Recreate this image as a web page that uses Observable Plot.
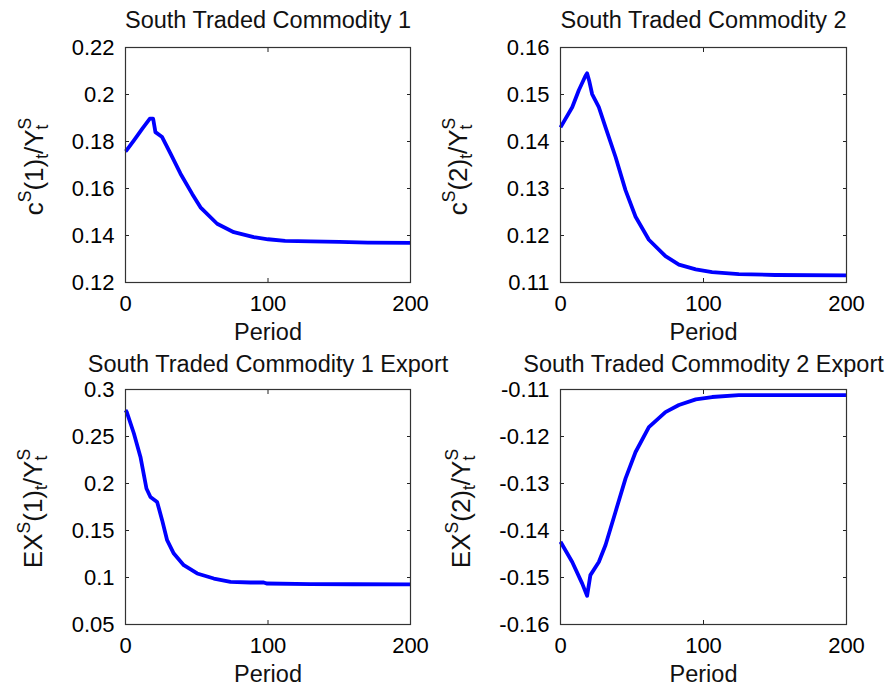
<!DOCTYPE html>
<html><head><meta charset="utf-8">
<script src="https://cdn.jsdelivr.net/npm/d3@7"></script>
<script src="https://cdn.jsdelivr.net/npm/@observablehq/plot@0.6"></script>
<style>
body{margin:0;background:#fff;}
#fig{position:relative;width:895px;height:689px;font-family:"Liberation Sans",Arial,sans-serif;}
#fig svg{position:absolute;overflow:visible;}
</style></head><body><div id="fig"></div>
<script>
// ---- data ----
const xTicks = [0, 100, 200];

const titles = ["South Traded Commodity 1", "South Traded Commodity 2",
  "South Traded Commodity 1 Export", "South Traded Commodity 2 Export"];

const periods1 = [0, 0.7, 5.8, 11.7, 17.1, 19.4, 21, 25.7, 31.6, 38.6, 46.8, 52.6, 64.3, 76, 90, 100, 112, 130, 150, 170, 200];
const values1  = [0.1758, 0.1762, 0.1804, 0.1854, 0.1897, 0.1897, 0.184, 0.1819, 0.1748, 0.1663, 0.1577, 0.152, 0.145, 0.1414, 0.1393, 0.1384, 0.1377, 0.1375, 0.1373, 0.1370, 0.1369];
const yTicks1 = [0.12, 0.14, 0.16, 0.18, 0.2, 0.22];

const periods2 = [0, 8.2, 12.8, 17.5, 18.6, 20, 22.1, 26.8, 31.5, 38.5, 45.5, 52.5, 61.8, 73.4, 82.8, 94.6, 106, 124.7, 150, 200];
const values2  = [0.1430, 0.1473, 0.1509, 0.1540, 0.1545, 0.1530, 0.1501, 0.1473, 0.1430, 0.1367, 0.1296, 0.1240, 0.1191, 0.1156, 0.1138, 0.1128, 0.1122, 0.1118, 0.1116, 0.1115];
const yTicks2 = [0.11, 0.12, 0.13, 0.14, 0.15, 0.16];

const periods3 = [0, 0.9, 5.9, 10.5, 14.7, 17.5, 22.2, 25.7, 29.2, 33.9, 40.9, 50.3, 62, 73.7, 87.7, 97, 99, 130, 160, 200];
const values3  = [0.278, 0.276, 0.2532, 0.2283, 0.1947, 0.1857, 0.1804, 0.161, 0.1397, 0.1255, 0.1131, 0.1043, 0.0989, 0.0953, 0.0947, 0.0947, 0.0936, 0.0930, 0.0928, 0.0926];
const yTicks3 = [0.05, 0.1, 0.15, 0.2, 0.25, 0.3];

const periods4 = [0, 8.2, 15.2, 18.6, 20.9, 26.8, 31.5, 38.5, 45.5, 52.5, 61.8, 73.4, 82.8, 94.6, 106, 124.7, 150, 200];
const values4  = [-0.1424, -0.1467, -0.1513, -0.1539, -0.1495, -0.1467, -0.1431, -0.1360, -0.1289, -0.1233, -0.1180, -0.1148, -0.1133, -0.1121, -0.1116, -0.1112, -0.1112, -0.1112];
const yTicks4 = [-0.16, -0.15, -0.14, -0.13, -0.12, -0.11];

const yLabels = [
  [["c"], ["S", "sup"], ["(1)"], ["t", "sub"], ["/Y"], ["S", "sup"], ["t", "subback"]],
  [["c"], ["S", "sup"], ["(2)"], ["t", "sub"], ["/Y"], ["S", "sup"], ["t", "subback"]],
  [["EX"], ["S", "sup"], ["(1)"], ["t", "sub"], ["/Y"], ["S", "sup"], ["t", "subback"]],
  [["EX"], ["S", "sup"], ["(2)"], ["t", "sub"], ["/Y"], ["S", "sup"], ["t", "subback"]]
];

// ---- layout ----
const panels = [
  {left: 0,   top: 0,   w: 447, h: 345, ml: 125, mr: 37, mt: 47, mb: 63, labX: 43, titleDy: -36,
   periods: periods1, values: values1, ticks: yTicks1},
  {left: 447, top: 0,   w: 448, h: 345, ml: 113, mr: 49, mt: 47, mb: 63, labX: 20, titleDy: -36,
   periods: periods2, values: values2, ticks: yTicks2},
  {left: 0,   top: 345, w: 447, h: 344, ml: 125, mr: 37, mt: 44, mb: 65, labX: 42, titleDy: -34,
   periods: periods3, values: values3, ticks: yTicks3},
  {left: 447, top: 345, w: 448, h: 344, ml: 113, mr: 49, mt: 44, mb: 65, labX: 23, titleDy: -34,
   periods: periods4, values: values4, ticks: yTicks4}
];

const fig = document.getElementById("fig");
const font = '"Liberation Sans", Arial, sans-serif';

panels.forEach((p, i) => {
  const data = p.periods.map((x, j) => ({period: x, value: p.values[j]}));
  const yDom = [p.ticks[0], p.ticks[p.ticks.length - 1]];
  const svg = Plot.plot({
    width: p.w, height: p.h,
    marginLeft: p.ml, marginRight: p.mr, marginTop: p.mt, marginBottom: p.mb,
    style: {background: "transparent", overflow: "visible", fontFamily: font, color: "#000"},
    x: {domain: [0, 200]},
    y: {domain: yDom},
    marks: [
      Plot.axisY(p.ticks, {anchor: "left", tickSize: -4, tickPadding: 15, tickFormat: d => String(d), fontSize: 22, label: null, stroke: "#222"}),
      Plot.axisY(p.ticks, {anchor: "right", tickSize: -4, tickFormat: () => "", label: null, stroke: "#222"}),
      Plot.axisX(xTicks, {anchor: "bottom", tickSize: -4, tickPadding: 17, tickFormat: d => String(d), fontSize: 22, label: null, stroke: "#222"}),
      Plot.axisX(xTicks, {anchor: "top", tickSize: -4, tickFormat: () => "", label: null, stroke: "#222"}),
      Plot.line(data, {x: "period", y: "value", stroke: "#0000ff", strokeWidth: 3.8, strokeLinejoin: "round", strokeLinecap: "butt"}),
      Plot.frame({stroke: "#333", strokeWidth: 1.2}),
      Plot.text([titles[i]], {frameAnchor: "top", dy: p.titleDy, fontSize: 23.5, fill: "#111"}),
      Plot.text(["Period"], {frameAnchor: "bottom", dy: 57, fontSize: 23.5, fill: "#111"})
    ]
  });
  svg.style.left = p.left + "px";
  svg.style.top = p.top + "px";
  // y-axis label with super/subscripts
  const cy = p.mt + (p.h - p.mt - p.mb) / 2 + 2;
  const t = d3.select(svg).append("text")
    .attr("transform", `translate(${p.labX},${cy}) rotate(-90)`)
    .attr("text-anchor", "middle")
    .attr("font-family", font)
    .attr("font-size", 26)
    .attr("fill", "#111");
  let cur = 0; // current baseline offset
  yLabels[i].forEach(([s, kind]) => {
    const ts = t.append("tspan").text(s);
    let target = 0;
    if (kind === "sup") { target = -12; ts.attr("font-size", 17.5); }
    else if (kind === "sub" || kind === "subback") { target = 5; ts.attr("font-size", 17.5); }
    if (kind === "subback") ts.attr("dx", -11.7);
    ts.attr("dy", target - cur);
    cur = target;
  });
  fig.appendChild(svg);
});
</script>
</body></html>
